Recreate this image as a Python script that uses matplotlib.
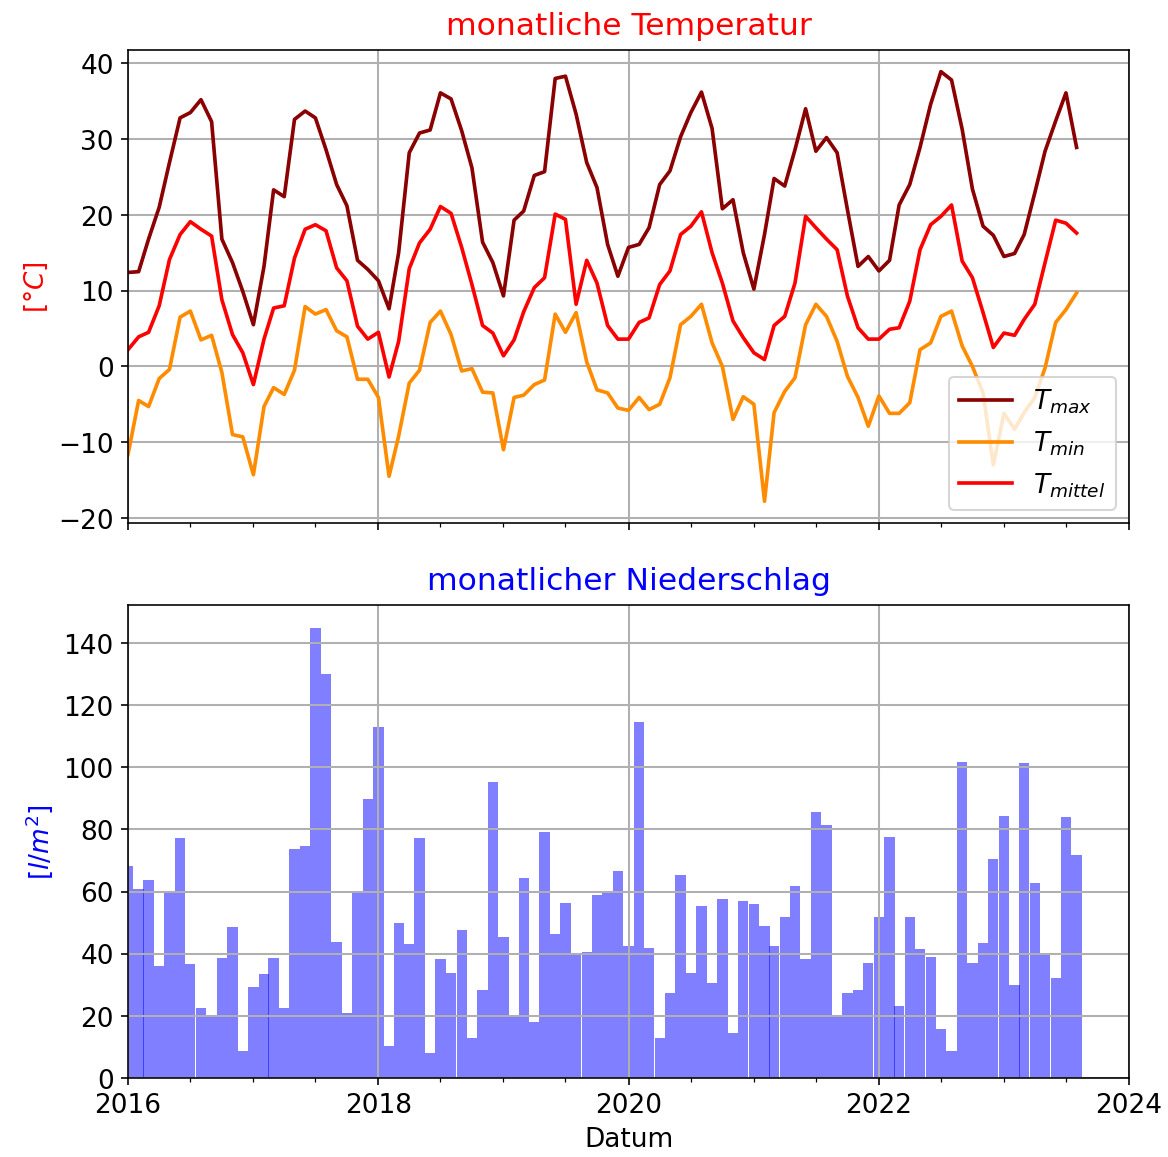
import matplotlib
matplotlib.use("Agg")
import matplotlib.pyplot as plt
import matplotlib.dates as mdates
import pandas as pd
import numpy as np

# monatswerte 2016-01 .. 2023-08
monate = pd.date_range("2016-01-01", periods=92, freq="MS")

t_max = [12.4, 12.5, 16.8, 21.0, 26.9, 32.8, 33.5, 35.2, 32.3, 16.8, 13.7, 9.9,
         5.5, 13.2, 23.3, 22.4, 32.6, 33.7, 32.8, 28.6, 24.0, 21.2, 14.0, 12.8,
         11.3, 7.6, 15.0, 28.2, 30.8, 31.2, 36.1, 35.3, 31.1, 26.2, 16.4, 13.7,
         9.3, 19.3, 20.5, 25.2, 25.7, 38.0, 38.3, 33.3, 26.9, 23.6, 16.1, 11.9,
         15.7, 16.1, 18.3, 24.0, 25.8, 30.3, 33.5, 36.2, 31.4, 20.8, 22.0, 15.0,
         10.2, 17.4, 24.8, 23.8, 28.6, 34.0, 28.4, 30.2, 28.2, 20.7, 13.2, 14.5,
         12.6, 14.0, 21.3, 24.0, 28.9, 34.6, 38.9, 37.8, 31.3, 23.4, 18.5, 17.3,
         14.5, 14.9, 17.4, 22.9, 28.4, 32.4, 36.1, 28.9]
t_min = [-11.6, -4.5, -5.3, -1.6, -0.4, 6.5, 7.3, 3.5, 4.1, -0.8, -9.0, -9.3,
         -14.3, -5.3, -2.8, -3.7, -0.5, 7.9, 6.9, 7.5, 4.7, 3.9, -1.7, -1.7,
         -4.1, -14.5, -9.2, -2.2, -0.5, 5.8, 7.3, 4.2, -0.6, -0.3, -3.4, -3.5,
         -11.0, -4.1, -3.8, -2.4, -1.8, 6.9, 4.5, 7.1, 0.6, -3.1, -3.5, -5.5,
         -5.8, -4.1, -5.7, -5.0, -1.5, 5.5, 6.6, 8.2, 3.1, 0.0, -7.0, -4.0,
         -5.0, -17.8, -6.1, -3.3, -1.5, 5.5, 8.2, 6.6, 3.3, -1.3, -4.1, -7.9,
         -3.9, -6.2, -6.2, -4.8, 2.2, 3.1, 6.6, 7.3, 2.7, 0.0, -3.5, -13.0,
         -6.2, -8.3, -6.1, -4.1, -0.2, 5.8, 7.5, 9.7]
t_mittel = [2.2, 3.9, 4.5, 8.0, 14.1, 17.4, 19.1, 18.1, 17.2, 8.8, 4.2, 1.8,
            -2.4, 3.6, 7.7, 8.0, 14.3, 18.1, 18.7, 17.9, 13.0, 11.3, 5.3, 3.6,
            4.5, -1.4, 3.3, 12.9, 16.3, 18.1, 21.1, 20.2, 15.7, 10.8, 5.4, 4.4,
            1.4, 3.5, 7.2, 10.4, 11.7, 20.1, 19.4, 8.2, 14.0, 11.0, 5.4, 3.6,
            3.6, 5.8, 6.4, 10.8, 12.6, 17.4, 18.5, 20.4, 15.0, 11.0, 6.0, 3.8,
            1.8, 0.9, 5.4, 6.6, 11.0, 19.8, 18.3, 16.8, 15.4, 9.3, 5.1, 3.6,
            3.6, 4.9, 5.1, 8.6, 15.4, 18.7, 19.8, 21.3, 13.9, 11.7, 7.1, 2.5,
            4.4, 4.1, 6.2, 8.2, 13.7, 19.3, 18.9, 17.6]
niederschlag = [68.3, 60.8, 63.7, 36.0, 60.0, 77.1, 36.8, 22.4, 20.1, 38.5, 48.7, 8.6,
                29.4, 33.5, 38.5, 22.4, 73.7, 74.5, 144.8, 129.9, 43.9, 20.8, 60.0, 89.8,
                112.9, 10.4, 49.8, 43.2, 77.1, 8.1, 38.2, 33.7, 47.6, 12.9, 28.3, 95.2,
                45.5, 20.1, 64.2, 18.0, 79.0, 46.5, 56.2, 40.1, 40.6, 58.8, 60.0, 66.7,
                42.5, 114.5, 41.7, 12.9, 27.4, 65.4, 33.7, 55.2, 30.6, 57.5, 14.5, 56.8,
                55.9, 48.9, 42.5, 51.8, 61.8, 38.2, 85.7, 81.5, 20.1, 27.4, 28.3, 36.9,
                51.8, 77.7, 23.3, 51.8, 41.4, 38.9, 15.8, 8.8, 101.8, 36.9, 43.5, 70.4,
                84.4, 29.9, 101.3, 62.9, 39.5, 32.3, 83.9, 71.7]

plt.rcParams['font.size'] = 13
plt.rcParams['grid.linewidth'] = 1.0

fig, (ax1, ax2) = plt.subplots(2, 1, figsize=(8.0, 7.93), dpi=146, sharex=True)
fig.subplots_adjust(left=0.1096, right=0.9666, bottom=0.0682, top=0.956, hspace=0.175)

# temperatur
ax1.plot(monate, t_max, color='darkred', lw=1.8, label='$T_{max}$')
ax1.plot(monate, t_min, color='darkorange', lw=1.8, label='$T_{min}$')
ax1.plot(monate, t_mittel, color='red', lw=1.8, label='$T_{mittel}$')
ax1.set_title('monatliche Temperatur', color='red', fontsize=15.5, pad=8)
ax1.set_ylabel('[$°C$]', color='red')
ax1.grid(True)
ax1.legend(loc='lower right', fontsize=13)

# niederschlag
ax2.bar(monate, niederschlag, width=30, color='blue', alpha=0.5)
ax2.set_title('monatlicher Niederschlag', color='blue', fontsize=15.5, pad=8)
ax2.set_ylabel('[$l/m^2$]', color='blue')
ax2.set_xlabel('Datum')
ax2.grid(True)

ax2.set_xlim(pd.Timestamp('2016-01-01'), pd.Timestamp('2024-01-01'))
ax2.xaxis.set_major_locator(mdates.YearLocator(2))
ax2.xaxis.set_minor_locator(mdates.MonthLocator((1, 7)))
ax2.xaxis.set_major_formatter(mdates.DateFormatter('%Y'))

plt.savefig('out.png')
